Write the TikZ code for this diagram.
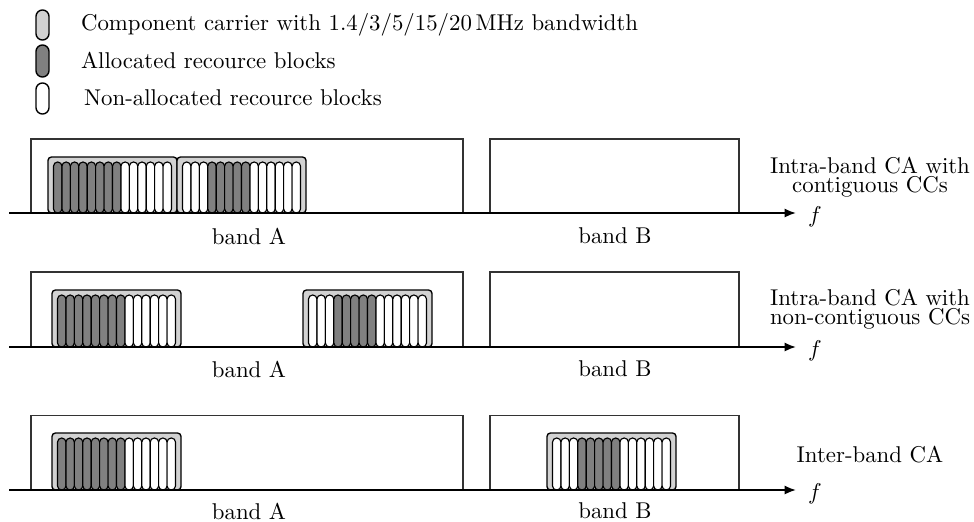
\documentclass[tikz,border=0pt]{standalone}
\usepackage{tikz}
\usetikzlibrary{arrows.meta}

% one component carrier: left x, top y, bottom y, first and last allocated block
\newcommand{\carrier}[5]{%
  \draw[ccbox] (#1,#2) rectangle ({#1+129},#3);
  \foreach \i in {1,...,14}{
    \pgfmathsetmacro\px{#1+5.5+(\i-1)*8.43}
    \ifnum\i<#4 \def\pc{white}\else\ifnum\i>#5 \def\pc{white}\else\def\pc{gray}\fi\fi
    \draw[rblock,fill=\pc] (\px,{#2+5}) rectangle ++(8.43,{#3-#2-5});
  }%
}

\begin{document}
\begin{tikzpicture}[
    x=0.438pt, y=-0.438pt,
    every node/.style={font=\normalsize},
    band/.style={draw=black!80, line width=0.45pt},
    ccbox/.style={draw=black, line width=0.6pt, fill=gray!35, rounded corners=1.5pt},
    rblock/.style={draw=black, line width=0.5pt, rounded corners=1.8pt},
    legpill/.style={draw=black, line width=0.6pt, rounded corners=2.8pt},
    axis/.style={line width=0.8pt, -{Latex[length=5pt,width=4pt]}},
    casetext/.style={align=center, font=\normalsize},
]
\useasboundingbox (0,0) rectangle (974,521);

% legend
\draw[legpill, fill=gray!35] (36,10) rectangle (49,40);
\draw[legpill, fill=gray]    (36,45) rectangle (49,77);
\draw[legpill, fill=white]   (36,83) rectangle (49,114);
\node[anchor=west] (legcc)  at (73,25) {Component carrier with 1.4/3/5/15/20\,MHz bandwidth};
\node[anchor=west] (legall) at (73,60) {Allocated recource blocks};
\node[anchor=west] (legnon) at (76,98) {Non-allocated recource blocks};

% three rows: number / box top / axis / label y
\foreach \r/\ytop/\yax/\ylab in {1/139/213/236, 2/272/347/369, 3/415/490/511}{
  \draw[band] (31,\ytop) rectangle (463,\yax);
  \draw[band] (490,\ytop) rectangle (739,\yax);
  \node (bandA\r) at (249,\ylab) {band A};
  \node (bandB\r) at (615,\ylab) {band B};
}

% carriers
\carrier{48}{157}{213}{1}{8}
\carrier{177}{157}{213}{4}{8}
\carrier{52}{290}{347}{1}{8}
\carrier{303}{290}{347}{4}{8}
\carrier{52}{433}{490}{1}{8}
\carrier{547}{433}{490}{4}{8}

% frequency axes
\foreach \r/\yax in {1/213, 2/347, 3/490}{
  \coordinate (ax\r) at (9,\yax);
  \coordinate (axend\r) at (796,\yax);
  \node[anchor=west] (f\r) at (800,\yax+4) {$f$};
  \draw[axis] (ax\r) -- (axend\r);
}

% cases
\node[casetext] (case1) at (870,177) {Intra-band CA with\\[-3.5pt]contiguous CCs};
\node[casetext] (case2) at (870,309) {Intra-band CA with\\[-3.5pt]non-contiguous CCs};
\node[casetext] (case3) at (870,455) {Inter-band CA};
\end{tikzpicture}
\end{document}
